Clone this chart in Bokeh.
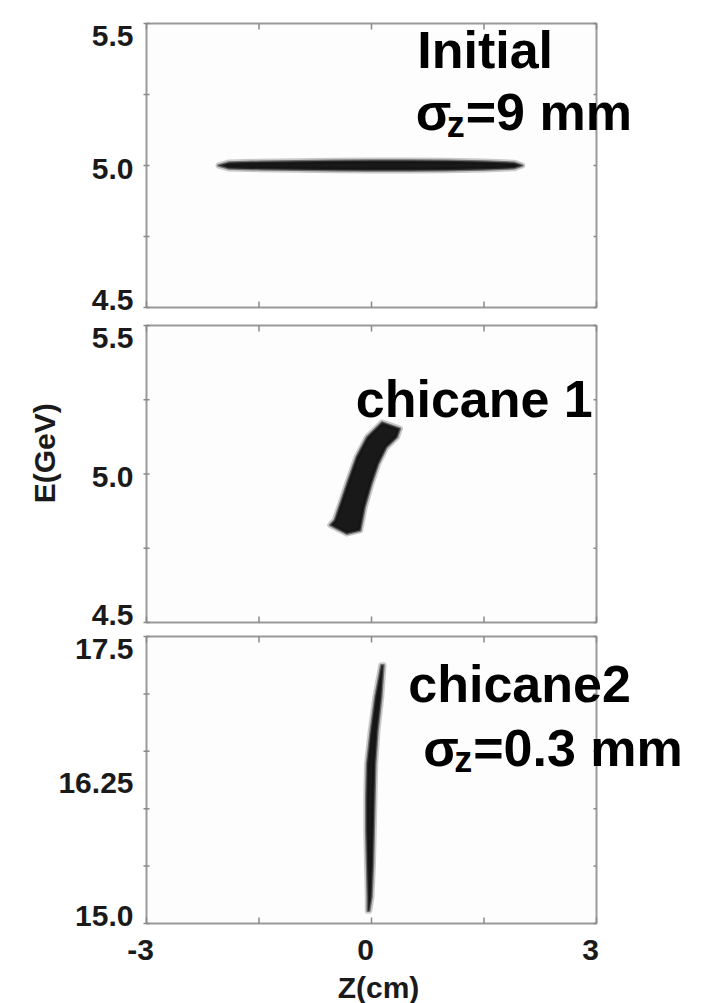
from math import pi

from bokeh.core.properties import value
from bokeh.embed import file_html
from bokeh.layouts import column
from bokeh.models import ColumnDataSource, Label, LabelSet, Range1d
from bokeh.plotting import figure
from bokeh.resources import INLINE

# ---------------------------------------------------------------------------
# Longitudinal phase space of the bunch: E (GeV) versus z (cm) at three stages
# ---------------------------------------------------------------------------

# shared z axis
z_range = (-3.0, 3.0)
z_ticks = [-3.0, -1.5, 0.0, 1.5, 3.0]
z_labels = [-3.0, 0.0, 3.0]
z_label_text = ["-3", "0", "3"]

# energy axes of the three stages
initial_E_range = (4.5, 5.5)
initial_E_ticks = [4.5, 4.75, 5.0, 5.25, 5.5]
initial_E_labels = [4.5, 5.0, 5.5]
initial_E_label_text = ["4.5", "5.0", "5.5"]

chicane1_E_range = (4.5, 5.5)
chicane1_E_ticks = [4.5, 4.75, 5.0, 5.25, 5.5]
chicane1_E_labels = [4.5, 5.0, 5.5]
chicane1_E_label_text = ["4.5", "5.0", "5.5"]

chicane2_E_range = (15.0, 17.5)
chicane2_E_ticks = [15.0, 15.5, 16.0, 16.5, 17.0, 17.5]
chicane2_E_labels = [15.0, 16.25, 17.5]
chicane2_E_label_text = ["15.0", "16.25", "17.5"]

# outline of the particle cloud, initial bunch (sigma_z = 9 mm)
initial_z = [-2.04, -1.90, -1.50, -1.00, -0.50, 0.00, 0.50, 1.00, 1.50, 1.90, 2.01,
             1.90, 1.50, 1.00, 0.50, 0.00, -0.50, -1.00, -1.50, -1.90]
initial_E = [5.000, 5.011, 5.013, 5.015, 5.017, 5.018, 5.018, 5.017, 5.014, 5.010, 5.000,
             4.990, 4.986, 4.983, 4.982, 4.982, 4.983, 4.985, 4.987, 4.989]

# outline of the particle cloud after the first chicane
chicane1_z = [0.38, 0.14, -0.06, -0.20, -0.31, -0.40, -0.49, -0.55,
              -0.33, -0.15, -0.09, 0.00, 0.09, 0.20, 0.34]
chicane1_E = [5.153, 5.174, 5.124, 5.057, 4.979, 4.912, 4.845, 4.828,
              4.799, 4.810, 4.888, 4.967, 5.034, 5.090, 5.124]

# outline of the particle cloud after the second chicane (sigma_z = 0.3 mm)
chicane2_z = [0.13, 0.05, -0.01, -0.06, -0.07, -0.07, -0.06, -0.05, -0.05,
              -0.03, 0.00, 0.02, 0.03, 0.04, 0.05, 0.08, 0.13, 0.16]
chicane2_E = [17.25, 16.97, 16.68, 16.39, 16.10, 15.81, 15.52, 15.23, 15.11,
              15.11, 15.23, 15.52, 15.81, 16.10, 16.39, 16.68, 16.97, 17.25]

# page geometry (pixels)
PAGE_W = 705
BOX_LEFT, BOX_RIGHT = 146, 596

FONT = "Liberation Sans"
FRAME_GRAY = "#9a9a9a"
TICK_GRAY = "#8a8a8a"
TEXT_DARK = "#1a1a1a"
TICK_FONT = "30px"
NOTE_FONT = "52px"
SUB_FONT = "36px"


def panel(E_range, E_ticks, E_labels, E_label_text, height, box_top, box_bottom):
    """A plot box drawn inside a frame that spans the whole canvas, so that
    the annotations are free to run over the edges of the box."""
    z0, z1 = z_range
    E0, E1 = E_range
    zpx = (z1 - z0) / (BOX_RIGHT - BOX_LEFT)      # z units per pixel
    Epx = (E1 - E0) / (box_bottom - box_top)      # E units per pixel

    p = figure(
        width=PAGE_W,
        height=height,
        x_range=Range1d(z0 - BOX_LEFT * zpx, z1 + (PAGE_W - BOX_RIGHT) * zpx),
        y_range=Range1d(E0 - (height - box_bottom) * Epx, E1 + box_top * Epx),
        x_axis_location=None,
        y_axis_location=None,
        min_border=0,
        toolbar_location=None,
        output_backend="svg",
        background_fill_color="white",
        border_fill_color="white",
        outline_line_color=None,
    )
    p.grid.visible = False

    # plot box
    p.quad(left=z0, right=z1, bottom=E0, top=E1, fill_color="#fdfdfd",
           line_color=FRAME_GRAY, line_width=2)

    # tick marks: crossing on the left, inward on the other three sides
    tick = dict(line_color=TICK_GRAY, line_width=1.5)
    n = len(E_ticks)
    p.segment(x0=[z0 - 3 * zpx] * n, x1=[z0 + 3 * zpx] * n, y0=E_ticks, y1=E_ticks, **tick)
    p.segment(x0=[z1 - 3 * zpx] * n, x1=[z1] * n, y0=E_ticks, y1=E_ticks, **tick)
    m = len(z_ticks)
    p.segment(x0=z_ticks, x1=z_ticks, y0=[E1] * m, y1=[E1 - 6 * Epx] * m, **tick)
    p.segment(x0=z_ticks, x1=z_ticks, y0=[E0] * m, y1=[E0 + 6 * Epx] * m, **tick)

    # energy labels; the ones at the box corners are pulled inwards
    nudge = [-12 if v == E1 else (8 if v == E0 else -3) for v in E_labels]
    src = ColumnDataSource(dict(x=[z0] * len(E_labels), y=E_labels,
                                text=E_label_text, dy=nudge))
    p.add_layout(LabelSet(x="x", y="y", text="text", y_offset="dy", x_offset=-13,
                          source=src, text_font=value(FONT),
                          text_font_style=value("bold"),
                          text_font_size=value(TICK_FONT), text_color=value(TEXT_DARK),
                          text_align=value("right"), text_baseline=value("middle")))
    return p


def cloud(p, zs, Es):
    p.patch(zs, Es, fill_color=None, line_color="#666666", line_alpha=0.35,
            line_width=6, line_join="round")
    p.patch(zs, Es, fill_color="black", fill_alpha=0.9,
            line_color="#333333", line_alpha=0.6, line_width=2.5, line_join="round")


def note(p, x, y, text, size=NOTE_FONT, dx=0, dy=0):
    p.add_layout(Label(x=x, y=y, x_offset=dx, y_offset=dy, text=text,
                       text_font=FONT, text_font_style="bold", text_font_size=size,
                       text_color="black", text_align="left",
                       text_baseline="alphabetic"))


def sigma_note(p, x, y, value_text):
    note(p, x, y, "σ")
    note(p, x, y, "z", size=SUB_FONT, dx=31, dy=-12)
    note(p, x, y, "=" + value_text, dx=50)


# --- initial bunch -----------------------------------------------------------
p1 = panel(initial_E_range, initial_E_ticks, initial_E_labels, initial_E_label_text,
           316, 23, 307)
cloud(p1, initial_z, initial_E)
note(p1, 0.61, 5.405, "Initial")
sigma_note(p1, 0.59, 5.187, "9 mm")

# --- after chicane 1 ---------------------------------------------------------
p2 = panel(chicane1_E_range, chicane1_E_ticks, chicane1_E_labels, chicane1_E_label_text,
           313, 9, 306)
cloud(p2, chicane1_z, chicane1_E)
note(p2, -0.21, 5.254, "chicane 1")
p2.add_layout(Label(x=z_range[0], y=5.07, x_offset=-102, text="E(GeV)", angle=pi / 2,
                    text_font=FONT, text_font_style="bold", text_font_size="30px",
                    text_color=TEXT_DARK, text_align="center", text_baseline="middle"))

# --- after chicane 2 ---------------------------------------------------------
p3 = panel(chicane2_E_range, chicane2_E_ticks, chicane2_E_labels, chicane2_E_label_text,
           374, 7, 294)
cloud(p3, chicane2_z, chicane2_E)
note(p3, 0.49, 17.09, "chicane2")
sigma_note(p3, 0.69, 16.533, "0.3 mm")

zsrc = ColumnDataSource(dict(x=z_labels, y=[chicane2_E_range[0]] * len(z_labels),
                             text=z_label_text))
p3.add_layout(LabelSet(x="x", y="y", text="text", source=zsrc, x_offset=-6, y_offset=-26,
                       text_font=value(FONT), text_font_style=value("bold"),
                       text_font_size=value(TICK_FONT), text_color=value(TEXT_DARK),
                       text_align=value("center"), text_baseline=value("middle")))
p3.add_layout(Label(x=0.0, y=chicane2_E_range[0], x_offset=7, y_offset=-64, text="Z(cm)",
                    text_font=FONT, text_font_style="bold", text_font_size="30px",
                    text_color=TEXT_DARK, text_align="center", text_baseline="middle"))

layout = column(p1, p2, p3, spacing=0)

with open("out.html", "w") as f:
    f.write(file_html(layout, INLINE, title="Bunch compression"))
